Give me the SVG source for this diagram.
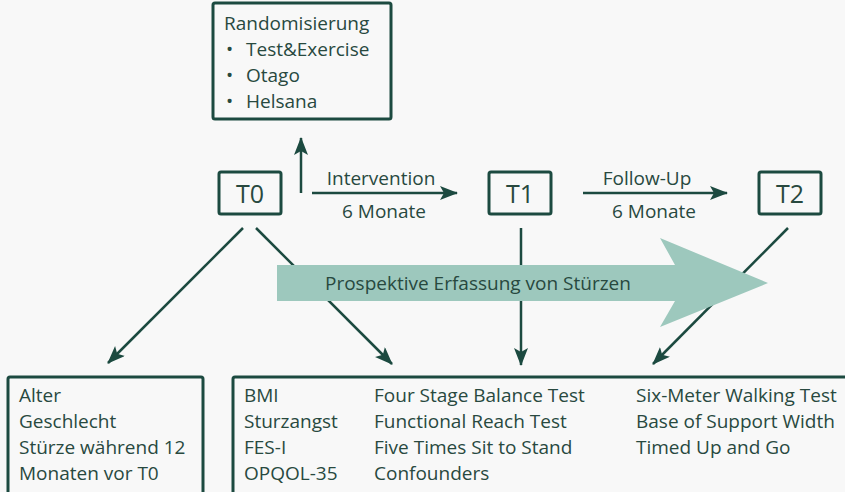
<svg xmlns="http://www.w3.org/2000/svg" width="845" height="492" viewBox="0 0 845 492">
<style>
.bg{fill:#f8f8f8}
.box{fill:none;stroke:#1c4a40;stroke-width:3;}
.t{font-family:"Open Sans","Liberation Sans",sans-serif;font-size:19px;fill:#28493f;}
.tb{font-family:"Open Sans","Liberation Sans",sans-serif;font-size:25px;fill:#28493f;text-anchor:middle;}
.ln{stroke:#1c4a40;stroke-width:2.5;fill:none;}
</style>
<defs>
<marker id="ah" markerUnits="userSpaceOnUse" markerWidth="20" markerHeight="16" viewBox="0 0 20 16" refX="17" refY="7" orient="auto">
<path d="M0,0 L18,7 L0,14 L4,7 z" fill="#1c4a40"/>
</marker>
</defs>
<rect class="bg" x="0" y="0" width="845" height="492"/>
<g id="connectors">
<line class="ln" x1="301" y1="193" x2="301" y2="138" marker-end="url(#ah)"/>
<line class="ln" x1="312" y1="193" x2="457" y2="193" marker-end="url(#ah)"/>
<line class="ln" x1="583" y1="193" x2="727" y2="193" marker-end="url(#ah)"/>
<line class="ln" x1="243" y1="228" x2="108" y2="363" marker-end="url(#ah)"/>
<line class="ln" x1="256" y1="228" x2="392" y2="364" marker-end="url(#ah)"/>
<line class="ln" x1="521" y1="228" x2="521" y2="365" marker-end="url(#ah)"/>
<line class="ln" x1="788" y1="228" x2="653" y2="364" marker-end="url(#ah)"/>
<text class="t" x="381" y="185" text-anchor="middle">Intervention</text>
<text class="t" x="384" y="218" text-anchor="middle">6 Monate</text>
<text class="t" x="647" y="185" text-anchor="middle">Follow-Up</text>
<text class="t" x="654" y="218" text-anchor="middle">6 Monate</text>
</g>
<g id="prospektiv">
<polygon points="277,265 675,265 660,238 768,283 660,327 675,301 277,301" fill="#9dc8bd"/>
<text class="t" x="325" y="290">Prospektive Erfassung von Stürzen</text>
</g>
<g id="randomisierung">
<rect class="box" x="213" y="3" width="178" height="116" rx="2"/>
<text class="t" x="224" y="30">Randomisierung</text>
<text class="t" x="226" y="56">•</text><text class="t" x="246" y="56">Test&amp;Exercise</text>
<text class="t" x="226" y="82">•</text><text class="t" x="246" y="82">Otago</text>
<text class="t" x="226" y="108">•</text><text class="t" x="246" y="108">Helsana</text>
</g>
<g id="T0">
<rect class="box" x="219" y="172" width="62" height="42" rx="2"/>
<text class="tb" x="250" y="203">T0</text>
</g>
<g id="T1">
<rect class="box" x="489" y="172" width="62" height="42" rx="2"/>
<text class="tb" x="520" y="203">T1</text>
</g>
<g id="T2">
<rect class="box" x="759" y="172" width="62" height="42" rx="2"/>
<text class="tb" x="790" y="203">T2</text>
</g>
<g id="baseline">
<rect class="box" x="8" y="377" width="195" height="125" rx="2"/>
<text class="t" x="19" y="402">Alter</text>
<text class="t" x="19" y="428">Geschlecht</text>
<text class="t" x="19" y="454">Stürze während 12</text>
<text class="t" x="19" y="480">Monaten vor T0</text>
</g>
<g id="messungen">
<rect class="box" x="233" y="377" width="630" height="125" rx="2"/>
<text class="t" x="244" y="402">BMI</text>
<text class="t" x="244" y="428">Sturzangst</text>
<text class="t" x="244" y="454">FES-I</text>
<text class="t" x="244" y="480">OPQOL-35</text>
<text class="t" x="374" y="402">Four Stage Balance Test</text>
<text class="t" x="374" y="428">Functional Reach Test</text>
<text class="t" x="374" y="454">Five Times Sit to Stand</text>
<text class="t" x="374" y="480">Confounders</text>
<text class="t" x="636" y="402">Six-Meter Walking Test</text>
<text class="t" x="636" y="428">Base of Support Width</text>
<text class="t" x="636" y="454">Timed Up and Go</text>
</g>
</svg>
